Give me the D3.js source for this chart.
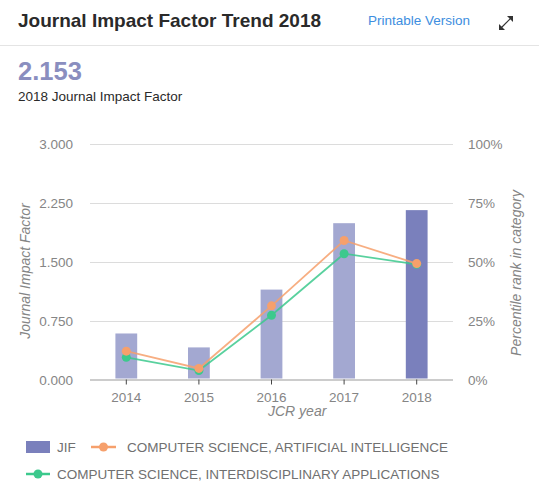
<!DOCTYPE html>
<html><head><meta charset="utf-8">
<script src="https://cdn.jsdelivr.net/npm/d3@7"></script>
<style>
html,body{margin:0;padding:0;background:#fff;}
svg{display:block;font-family:"Liberation Sans",Arial,sans-serif;}
</style></head>
<body>
<svg id="c" width="539" height="495"></svg>
<script>
const years = ["2014","2015","2016","2017","2018"];
const jif = [0.585, 0.408, 1.143, 1.987, 2.153];
const aiPct = [12.0, 4.7, 31.2, 58.9, 49.1];
const iaPct = [9.4, 3.8, 27.2, 53.3, 48.8];
const leftTicks = [0, 0.75, 1.5, 2.25, 3.0];
const rightTicks = [0, 25, 50, 75, 100];
const seriesNames = ["JIF", "COMPUTER SCIENCE, ARTIFICIAL INTELLIGENCE", "COMPUTER SCIENCE, INTERDISCIPLINARY APPLICATIONS"];

const svg = d3.select("#c");
const barLight = "#a3a8d1", barDark = "#7a80bc";
const orange = "#f6a06c", green = "#3cc98d";
const gray = "#858585";

// header
svg.append("text").attr("x",18).attr("y",27).attr("font-size",19).attr("font-weight","bold").attr("fill","#2a2a2a").text("Journal Impact Factor Trend 2018");
svg.append("text").attr("x",368).attr("y",25).attr("font-size",13.5).attr("fill","#3d8ee0").text("Printable Version");
// expand icon (double-headed diagonal arrow)
const ic = svg.append("g");
ic.append("line").attr("x1",501).attr("y1",28).attr("x2",511).attr("y2",18).attr("stroke","#333").attr("stroke-width",1.2);
ic.append("path").attr("d","M513,16 L513,22 L507,16 Z").attr("fill","#333");
ic.append("path").attr("d","M499,30 L499,24 L505,30 Z").attr("fill","#333");
svg.append("line").attr("x1",0).attr("x2",539).attr("y1",45.5).attr("y2",45.5).attr("stroke","#e4e4e4");
svg.append("text").attr("x",18).attr("y",80).attr("font-size",25.5).attr("font-weight","bold").attr("fill","#8a8ebf").text(jif[jif.length-1].toFixed(3));
svg.append("text").attr("x",18).attr("y",101).attr("font-size",13.5).attr("fill","#2a2a2a").text("2018 Journal Impact Factor");

// chart
const L = 90, R = 453, T = 143.5, B = 379.5;
const x = d3.scaleBand().domain(years).range([L,R]).paddingInner(0.7).paddingOuter(0.35);
const xc = d => x(d) + x.bandwidth()/2;
const yL = d3.scaleLinear().domain([0,3]).range([B,T]);
const yR = d3.scaleLinear().domain([0,100]).range([B,T]);

// gridlines
svg.append("g").selectAll("line").data(leftTicks.slice(1)).join("line")
  .attr("x1",L).attr("x2",R).attr("y1",d=>Math.round(yL(d))+0.5).attr("y2",d=>Math.round(yL(d))+0.5)
  .attr("stroke","#dcdcdc").attr("stroke-width",1);

// tick labels
svg.append("g").selectAll("text").data(leftTicks).join("text")
  .attr("x",73).attr("y",d=>yL(d)+5).attr("text-anchor","end").attr("font-size",13.5).attr("fill",gray)
  .text(d=>d3.format(".3f")(d));
svg.append("g").selectAll("text").data(rightTicks).join("text")
  .attr("x",468).attr("y",d=>yR(d)+5).attr("text-anchor","start").attr("font-size",13.5).attr("fill",gray)
  .text(d=>d+"%");

// axis titles
svg.append("text").attr("transform",`translate(30,271) rotate(-90)`).attr("text-anchor","middle")
  .attr("font-size",14).attr("font-style","italic").attr("fill",gray).text("Journal Impact Factor");
svg.append("text").attr("transform",`translate(521,273) rotate(-90)`).attr("text-anchor","middle")
  .attr("font-size",14).attr("font-style","italic").attr("fill",gray).text("Percentile rank in category");

// bars
svg.append("g").selectAll("rect").data(years).join("rect")
  .attr("x",d=>x(d)).attr("width",x.bandwidth())
  .attr("y",(d,i)=>yL(jif[i])).attr("height",(d,i)=>B-1-yL(jif[i]))
  .attr("fill",(d,i)=>i===years.length-1?barDark:barLight);

// x axis
const xa = svg.append("g").attr("transform",`translate(0,${B})`).call(d3.axisBottom(x).tickSize(5).tickSizeOuter(0).tickPadding(8));
xa.select(".domain").attr("stroke","#999").attr("d",`M${L},0.5H${R}`);
xa.selectAll(".tick line").attr("stroke","#444");
xa.selectAll(".tick text").attr("font-size",13.5).attr("fill",gray).attr("font-family","Liberation Sans, Arial, sans-serif");
svg.append("text").attr("x",268).attr("y",416).attr("text-anchor","start").attr("font-size",14).attr("font-style","italic").attr("fill",gray).text("JCR year");

// lines
const line = d3.line().x((d,i)=>xc(years[i])).y(d=>yR(d));
function series(vals,col){
  const g = svg.append("g");
  g.append("path").attr("d",line(vals)).attr("fill","none").attr("stroke",col).attr("stroke-width",1.8).attr("opacity",0.85);
  g.selectAll("circle").data(vals).join("circle").attr("cx",(d,i)=>xc(years[i])).attr("cy",d=>yR(d)).attr("r",4.5).attr("fill",col);
}
series(iaPct, green);
series(aiPct, orange);

// legend
const lg = svg.append("g").attr("font-size",13.5).attr("fill","#707070");
lg.append("rect").attr("x",26).attr("y",441).attr("width",24).attr("height",12).attr("fill",barDark);
lg.append("text").attr("x",57).attr("y",452).text(seriesNames[0]);
lg.append("line").attr("x1",91).attr("x2",116).attr("y1",447).attr("y2",447).attr("stroke",orange).attr("stroke-width",2.5);
lg.append("circle").attr("cx",103.5).attr("cy",447).attr("r",4.5).attr("fill",orange);
lg.append("text").attr("x",127).attr("y",452).text(seriesNames[1]);
lg.append("line").attr("x1",26).attr("x2",50).attr("y1",474).attr("y2",474).attr("stroke",green).attr("stroke-width",2.5);
lg.append("circle").attr("cx",38).attr("cy",474).attr("r",4.5).attr("fill",green);
lg.append("text").attr("x",57).attr("y",479).text(seriesNames[2]);
</script>
</body></html>
